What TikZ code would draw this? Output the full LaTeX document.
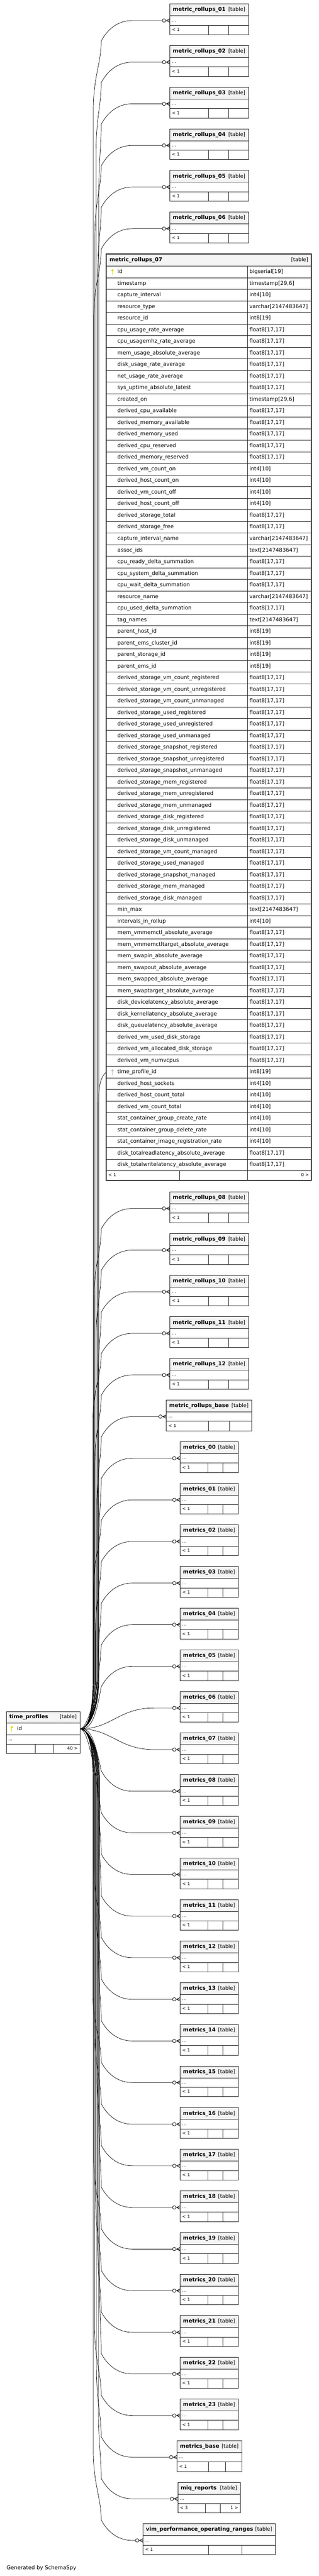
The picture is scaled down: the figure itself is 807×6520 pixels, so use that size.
\documentclass[tikz,border=0pt]{standalone}
\usepackage{fontspec}
\setmainfont{DejaVu Sans}
\usetikzlibrary{positioning, decorations.markings}

\definecolor{headc}{HTML}{F4F4F4}
\definecolor{linec}{HTML}{222222}
\definecolor{pkc}{HTML}{DDDD00}
\definecolor{fkc}{HTML}{BDBDBD}

\newcommand\fthead{\fontsize{13.5}{16}\selectfont}
\newcommand\fttag{\fontsize{13}{15}\selectfont}
\newcommand\ftsmall{\fontsize{11}{13}\selectfont}

% column types
\newcommand\tyfl{float8[17,17]}
\newcommand\tyts{timestamp[29,6]}
\newcommand\tyvc{varchar[2147483647]}
\newcommand\tytx{text[2147483647]}
\newcommand\tyia{int4[10]}
\newcommand\tyib{int8[19]}
\newcommand\tybs{bigserial[19]}

\tikzset{
  tabhead/.style={draw=linec, fill=headc, line width=1pt, inner sep=0, outer sep=0, minimum height=30pt, anchor=north west},
  tabrow/.style={draw=linec, line width=1pt, inner sep=0, outer sep=0, anchor=north west},
  coltext/.style={anchor=west, inner sep=0, font=\fthead, text height=10pt, text depth=3pt},
  smalltext/.style={anchor=west, inner sep=0, font=\ftsmall, text height=8pt, text depth=2pt},
  fkedge/.style={draw=black, line width=0.9pt,
    postaction={decorate, decoration={markings, mark=at position 1 with {
      \draw[line width=1pt, fill=white] (-15,0) circle (4.3);
      \draw[line width=1.2pt] (-9,0) -- (0,4.5) (-9,0) -- (0,-4.5);}}}}
}

% small table: name, title, top, left, right, divider 1, divider 2, footer left, footer right
\newcommand\erbox[9]{%
  \node[tabhead, minimum width={(#5-#4)*1pt}] (#1h) at (#4,#3) {};
  \node[coltext, font=\fthead\bfseries] at ([xshift=7pt]#1h.west) {#2};
  \node[coltext, anchor=east, font=\fttag] at ([xshift=-8pt]#1h.east) {[table]};
  \node[tabrow, minimum width={(#5-#4)*1pt}, minimum height=24pt] (#1) at (#4,{#3+30}) {};
  \node[smalltext] at ([xshift=5pt]#1.west) {...};
  \draw[linec, line width=1pt] (#4,{#3+54}) rectangle (#5,{#3+78})
    (#6,{#3+54}) -- (#6,{#3+78}) (#7,{#3+54}) -- (#7,{#3+78});
  \node[smalltext] at ({#4+5},{#3+66}) {#8};
  \node[smalltext, anchor=east] at ({#5-5},{#3+66}) {#9};
}

% edge from time_profiles.id: target, row y, bundle x
\newcommand\tpedge[3]{%
  \pgfmathtruncatemacro\ekind{(#2<4096)?0:((#2<4276)?1:((#2<4476)?2:((#2<4656)?3:4)))}%
  \ifcase\ekind\relax
    \draw[fkedge] (tp.east) .. controls +(22,0) and (#3,4330) .. (#3,4250) -- (#3,{#2+230})
      .. controls (#3,{#2+140}) and (256,{#2+110}) .. (256,{#2+52})
      .. controls (272,{#2+22}) and (298,#2) .. (335,#2) -- (#1.west);
  \or
    \draw[fkedge] (tp.east) .. controls +(22,0) and (#3,{#2+150}) .. (256,{#2+52})
      .. controls (272,{#2+22}) and (298,#2) .. (335,#2) -- (#1.west);
  \or
    \draw[fkedge] (tp.east) .. controls +(80,0) and (300,#2) .. (390,#2) -- (#1.west);
  \or
    \draw[fkedge] (tp.east) .. controls +(22,0) and (#3,{#2-150}) .. (256,{#2-52})
      .. controls (272,{#2-22}) and (298,#2) .. (335,#2) -- (#1.west);
  \else
    \draw[fkedge] (tp.east) .. controls +(22,0) and (#3,4422) .. (#3,4502) -- (#3,{#2-230})
      .. controls (#3,{#2-140}) and (256,{#2-110}) .. (256,{#2-52})
      .. controls (272,{#2-22}) and (298,#2) .. (335,#2) -- (#1.west);
  \fi
}

\newcommand\keyicon[2]{%
  \fill[#2] ([yshift=4.5pt]#1) circle (2.8);
  \draw[#2, line width=1.8pt] ([yshift=3pt]#1) -- ([yshift=-7pt]#1);
}

\begin{document}
\catcode`\_=12
\begin{tikzpicture}[x=1pt, y=-1pt]
\useasboundingbox (0,0) rectangle (807,6520);

% time_profiles
\node[tabhead, minimum width=186.6pt, minimum height=29pt] (tph) at (15.7,4332) {};
\node[coltext, font=\fthead\bfseries] at ([xshift=7.6pt]tph.west) {time_profiles};
\node[coltext, anchor=east, font=\fttag] at ([xshift=-8pt]tph.east) {[table]};
\node[tabrow, minimum width=186.6pt, minimum height=29.7pt] (tp) at (15.7,4361) {};
\coordinate (tpk) at ([xshift=14pt]tp.west);
\keyicon{tpk}{pkc}
\node[coltext] at ([xshift=27.3pt]tp.west) {id};
\node[tabrow, minimum width=186.6pt, minimum height=23.6pt] (tpx) at (15.7,4390.7) {};
\node[smalltext] at ([xshift=5pt]tpx.west) {...};
\draw[linec, line width=1pt] (15.7,4414.3) rectangle (202.3,4438.3)
  (89,4414.3) -- (89,4438.3) (134.7,4414.3) -- (134.7,4438.3);
\node[smalltext, anchor=east] at (197,4426.3) {40 >};

% metric_rollups_07
\node[tabhead, minimum width=519pt, minimum height=31pt] (mr07h) at (269,643) {};
\node[coltext, font=\fthead\bfseries] at ([xshift=8pt]mr07h.west) {metric_rollups_07};
\node[coltext, anchor=east, font=\fttag] at ([xshift=-8pt]mr07h.east) {[table]};
\foreach \cn/\ct [count=\i] in {id/\tybs, timestamp/\tyts, capture_interval/\tyia,
  resource_type/\tyvc, resource_id/\tyib, cpu_usage_rate_average/\tyfl,
  cpu_usagemhz_rate_average/\tyfl, mem_usage_absolute_average/\tyfl,
  disk_usage_rate_average/\tyfl, net_usage_rate_average/\tyfl,
  sys_uptime_absolute_latest/\tyfl, created_on/\tyts, derived_cpu_available/\tyfl,
  derived_memory_available/\tyfl, derived_memory_used/\tyfl, derived_cpu_reserved/\tyfl,
  derived_memory_reserved/\tyfl, derived_vm_count_on/\tyia, derived_host_count_on/\tyia,
  derived_vm_count_off/\tyia, derived_host_count_off/\tyia, derived_storage_total/\tyfl,
  derived_storage_free/\tyfl, capture_interval_name/\tyvc, assoc_ids/\tytx,
  cpu_ready_delta_summation/\tyfl, cpu_system_delta_summation/\tyfl,
  cpu_wait_delta_summation/\tyfl, resource_name/\tyvc, cpu_used_delta_summation/\tyfl,
  tag_names/\tytx, parent_host_id/\tyib, parent_ems_cluster_id/\tyib,
  parent_storage_id/\tyib, parent_ems_id/\tyib,
  derived_storage_vm_count_registered/\tyfl, derived_storage_vm_count_unregistered/\tyfl,
  derived_storage_vm_count_unmanaged/\tyfl, derived_storage_used_registered/\tyfl,
  derived_storage_used_unregistered/\tyfl, derived_storage_used_unmanaged/\tyfl,
  derived_storage_snapshot_registered/\tyfl, derived_storage_snapshot_unregistered/\tyfl,
  derived_storage_snapshot_unmanaged/\tyfl, derived_storage_mem_registered/\tyfl,
  derived_storage_mem_unregistered/\tyfl, derived_storage_mem_unmanaged/\tyfl,
  derived_storage_disk_registered/\tyfl, derived_storage_disk_unregistered/\tyfl,
  derived_storage_disk_unmanaged/\tyfl, derived_storage_vm_count_managed/\tyfl,
  derived_storage_used_managed/\tyfl, derived_storage_snapshot_managed/\tyfl,
  derived_storage_mem_managed/\tyfl, derived_storage_disk_managed/\tyfl,
  min_max/\tytx, intervals_in_rollup/\tyia, mem_vmmemctl_absolute_average/\tyfl,
  mem_vmmemctltarget_absolute_average/\tyfl, mem_swapin_absolute_average/\tyfl,
  mem_swapout_absolute_average/\tyfl, mem_swapped_absolute_average/\tyfl,
  mem_swaptarget_absolute_average/\tyfl, disk_devicelatency_absolute_average/\tyfl,
  disk_kernellatency_absolute_average/\tyfl, disk_queuelatency_absolute_average/\tyfl,
  derived_vm_used_disk_storage/\tyfl, derived_vm_allocated_disk_storage/\tyfl,
  derived_vm_numvcpus/\tyfl, time_profile_id/\tyib, derived_host_sockets/\tyia,
  derived_host_count_total/\tyia, derived_vm_count_total/\tyia,
  stat_container_group_create_rate/\tyia, stat_container_group_delete_rate/\tyia,
  stat_container_image_registration_rate/\tyia,
  disk_totalreadlatency_absolute_average/\tyfl,
  disk_totalwritelatency_absolute_average/\tyfl} {
  \pgfmathsetmacro\ry{674+(\i-1)*29.35}
  \node[tabrow, line width=1.2pt, minimum width=357pt, minimum height=29.35pt] (c\i) at (269,\ry) {};
  \node[tabrow, line width=1.2pt, minimum width=162pt, minimum height=29.35pt] (t\i) at (626,\ry) {};
  \node[coltext] at ([xshift=28pt]c\i.west) {\cn};
  \node[coltext] at ([xshift=5pt]t\i.west) {\ct};
}
\coordinate (k1) at ([xshift=15.6pt]c1.west);
\coordinate (k70) at ([xshift=15.6pt]c70.west);
\keyicon{k1}{pkc}
\keyicon{k70}{fkc}
\draw[linec, line width=1.2pt] (269,2963.3) rectangle (788,2987)
  (454.4,2963.3) -- (454.4,2987) (626,2963.3) -- (626,2987);
\node[smalltext] at (274,2975) {< 1};
\node[smalltext, anchor=east] at (782,2975) {0 >};
\draw[linec, line width=2.6pt] (269,643) rectangle (788,2987);
\draw[fkedge] (tp.east) .. controls +(22,0) and (249,4330) .. (249,4250) -- (249,2830)
  .. controls (249,2770) and (248,2730) .. (c70.west);

% tables above metric_rollups_07
\foreach \nm/\ttl [count=\k from 0] in {mr01/metric_rollups_01, mr02/metric_rollups_02,
  mr03/metric_rollups_03, mr04/metric_rollups_04, mr05/metric_rollups_05,
  mr06/metric_rollups_06} {
  \pgfmathsetmacro\ytop{10+105.35*\k}
  \erbox{\nm}{\ttl}{\ytop}{430}{629}{527.5}{578.5}{< 1}{}
  \pgfmathsetmacro\yrow{\ytop+42}
  \pgfmathsetmacro\bx{236+mod(7*\k,17)}
  \tpedge{\nm}{\yrow}{\bx}
}

% tables below metric_rollups_07
\foreach \nm/\ttl/\lf/\rt/\da/\db/\fl/\fr [count=\i from 0] in {
  mr08/metric_rollups_08/430/629/527.5/578.5/< 1/{},
  mr09/metric_rollups_09/430/629/527.5/578.5/< 1/{},
  mr10/metric_rollups_10/430/629/527.5/578.5/< 1/{},
  mr11/metric_rollups_11/430/629/527.5/578.5/< 1/{},
  mr12/metric_rollups_12/430/629/527.5/578.5/< 1/{},
  mrbase/metric_rollups_base/421/637/527/581/< 1/{},
  m00/metrics_00/456/603/526.5/564/< 1/{}, m01/metrics_01/456/603/526.5/564/< 1/{},
  m02/metrics_02/456/603/526.5/564/< 1/{}, m03/metrics_03/456/603/526.5/564/< 1/{},
  m04/metrics_04/456/603/526.5/564/< 1/{}, m05/metrics_05/456/603/526.5/564/< 1/{},
  m06/metrics_06/456/603/526.5/564/< 1/{}, m07/metrics_07/456/603/526.5/564/< 1/{},
  m08/metrics_08/456/603/526.5/564/< 1/{}, m09/metrics_09/456/603/526.5/564/< 1/{},
  m10/metrics_10/456/603/526.5/564/< 1/{}, m11/metrics_11/456/603/526.5/564/< 1/{},
  m12/metrics_12/456/603/526.5/564/< 1/{}, m13/metrics_13/456/603/526.5/564/< 1/{},
  m14/metrics_14/456/603/526.5/564/< 1/{}, m15/metrics_15/456/603/526.5/564/< 1/{},
  m16/metrics_16/456/603/526.5/564/< 1/{}, m17/metrics_17/456/603/526.5/564/< 1/{},
  m18/metrics_18/456/603/526.5/564/< 1/{}, m19/metrics_19/456/603/526.5/564/< 1/{},
  m20/metrics_20/456/603/526.5/564/< 1/{}, m21/metrics_21/456/603/526.5/564/< 1/{},
  m22/metrics_22/456/603/526.5/564/< 1/{}, m23/metrics_23/456/603/526.5/564/< 1/{},
  mbase/metrics_base/448/612/527.5/569.7/< 1/{},
  miq/miq_reports/450/608/520/557/< 3/1 >,
  vpor/vim_performance_operating_ranges/362/697/527.5/612/< 1/{}} {
  \pgfmathsetmacro\ytop{3016.7+105.35*\i}
  \erbox{\nm}{\ttl}{\ytop}{\lf}{\rt}{\da}{\db}{\fl}{\fr}
  \pgfmathsetmacro\yrow{\ytop+42}
  \pgfmathsetmacro\bx{235+mod(5*\i+3,18)}
  \tpedge{\nm}{\yrow}{\bx}
}

\node[coltext] (gen) at (16.5,6500) {Generated by SchemaSpy};
\end{tikzpicture}
\end{document}
